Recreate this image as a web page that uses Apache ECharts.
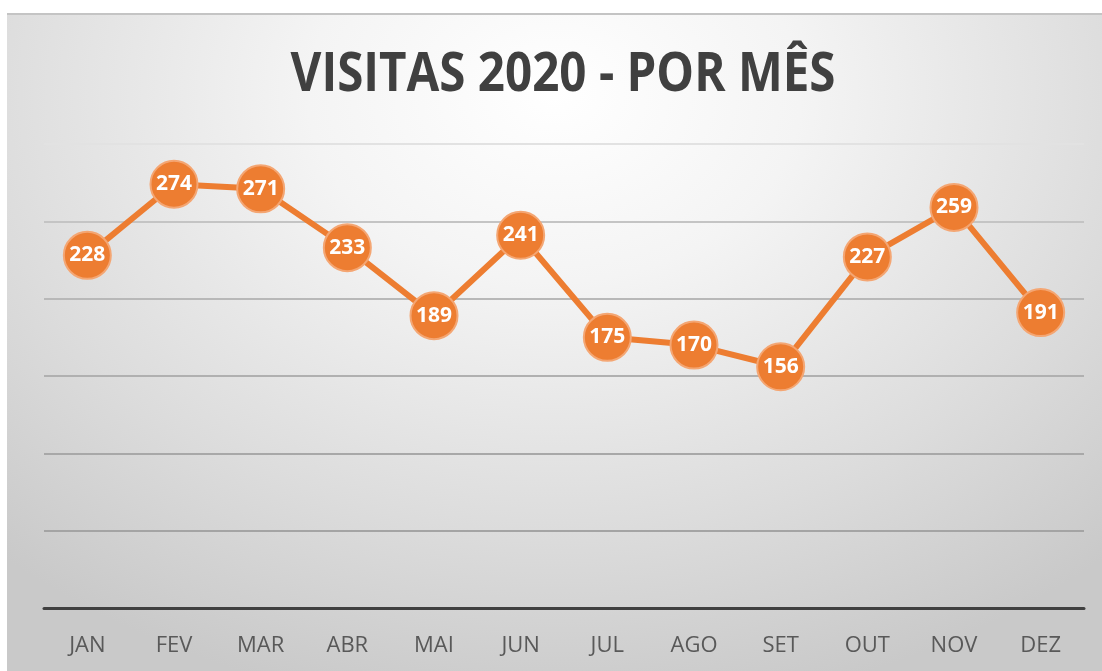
<!DOCTYPE html>
<html>
<head>
<meta charset="utf-8">
<script src="https://cdn.jsdelivr.net/npm/echarts@6/dist/echarts.min.js"></script>
<style>
  html, body { margin: 0; padding: 0; background: #fff; }
  #bg {
    position: absolute; left: 7px; top: 13px; width: 1095px; height: 658px;
    border-top: 2px solid #c4c4c4;
    background: radial-gradient(ellipse 75% 95% at 50% 12%, #ffffff 0%, #f4f4f4 30%, #dcdcdc 70%, #c9c9c9 100%);
  }
  #chart { position: absolute; left: 0; top: 0; width: 1102px; height: 671px; }
</style>
</head>
<body>
<div id="bg"></div>
<div id="chart"></div>
<script>
// dados do gráfico
const titulo = 'VISITAS 2020 - POR MÊS'
const meses = ['JAN', 'FEV', 'MAR', 'ABR', 'MAI', 'JUN', 'JUL', 'AGO', 'SET', 'OUT', 'NOV', 'DEZ']
const visitas = [228, 274, 271, 233, 189, 241, 175, 170, 156, 227, 259, 191]

const chart = echarts.init(document.getElementById('chart'))

const option = {
  backgroundColor: 'transparent',
  // título estreito (tipo Calibri) -> texto com escala horizontal
  graphic: [{
    type: 'text',
    x: 563,
    y: 76,
    scaleX: 0.88,
    style: {
      text: titulo,
      font: 'bold 54px "Open Sans"',
      fill: '#404040',
      align: 'center',
      verticalAlign: 'middle'
    }
  }],
  grid: {
    left: 44,
    right: 18,
    top: 144,
    bottom: 63
  },
  xAxis: {
    type: 'category',
    data: meses,
    boundaryGap: true,
    axisLine: { lineStyle: { color: '#404040', width: 3 } },
    axisTick: { show: false },
    axisLabel: {
      margin: 27,
      fontFamily: 'Open Sans',
      fontSize: 22,
      color: '#595959'
    }
  },
  yAxis: {
    type: 'value',
    min: 0,
    max: 300,
    interval: 50,
    axisLabel: { show: false },
    axisLine: { show: false },
    axisTick: { show: false },
    splitLine: {
      lineStyle: {
        width: 2,
        color: ['#9a9a9a', '#a4a4a4', '#a8a8a8', '#b0b0b0', '#b8b8b8', '#c4c4c4', '#e2e2e2']
      }
    }
  },
  series: [{
    type: 'line',
    data: visitas,
    symbol: 'circle',
    symbolSize: 47,
    lineStyle: { color: '#ED7D31', width: 6 },
    itemStyle: { color: '#ED7D31', borderColor: '#F4A673', borderWidth: 2 },
    label: {
      show: true,
      position: 'inside',
      color: '#ffffff',
      fontFamily: 'Open Sans',
      fontWeight: 'bold',
      fontSize: 21
    },
    z: 3
  }]
}

chart.setOption(option)
</script>
</body>
</html>
